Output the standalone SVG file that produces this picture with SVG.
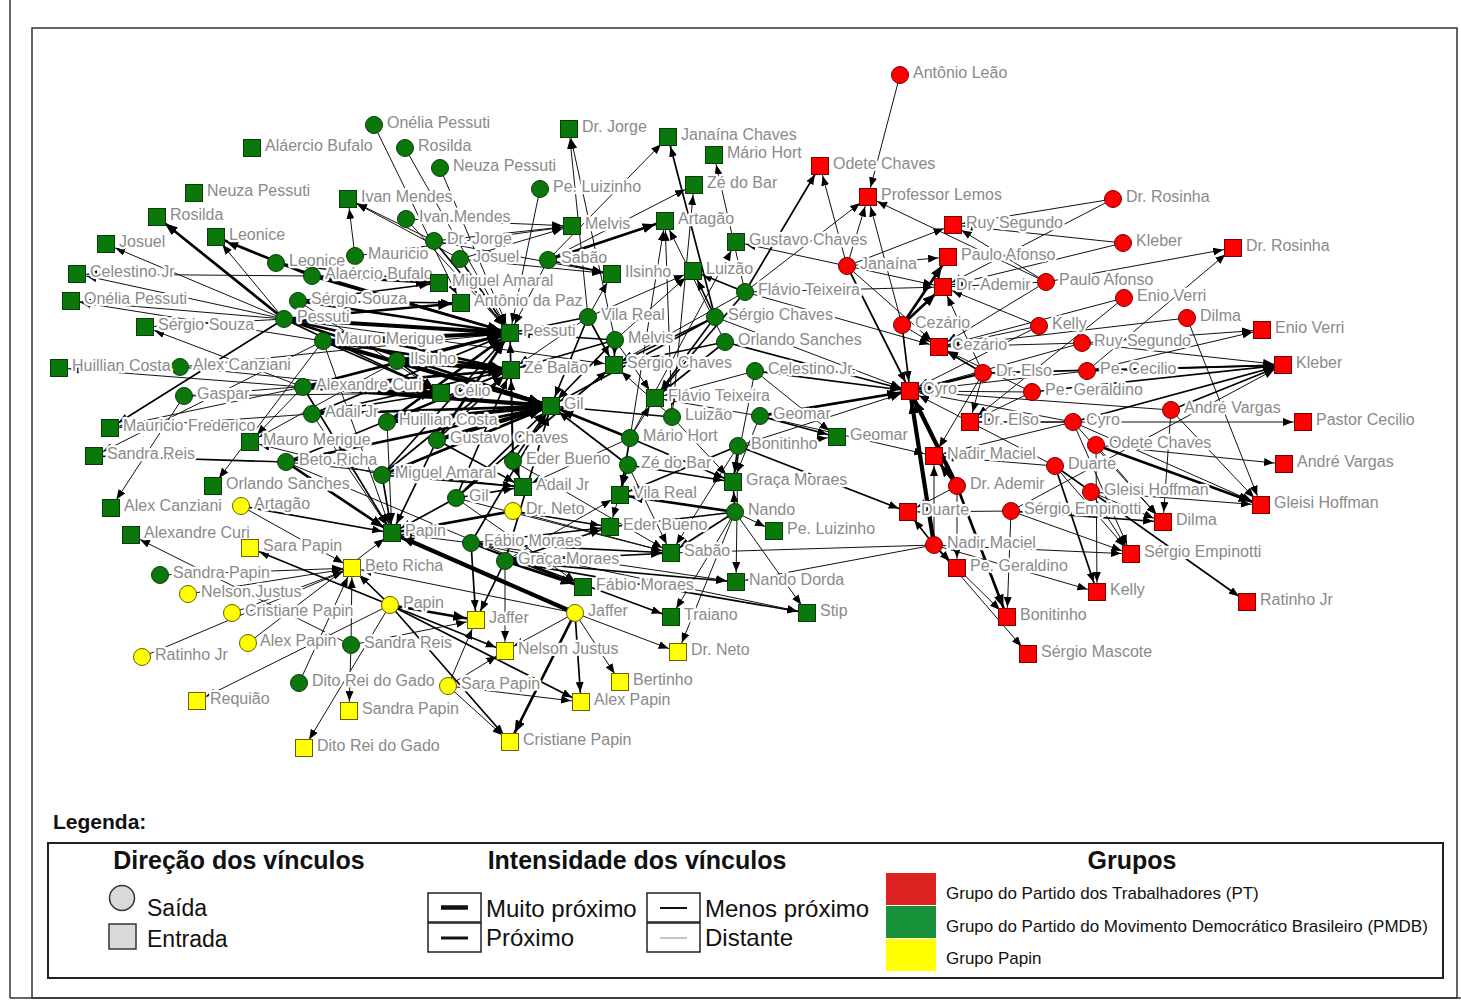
<svg xmlns="http://www.w3.org/2000/svg" width="1461" height="1001" viewBox="0 0 1461 1001">
<defs>
<marker id="a1" markerUnits="userSpaceOnUse" markerWidth="10" markerHeight="8" viewBox="0 0 10 8" refX="20" refY="4" orient="auto"><path d="M0,0 L10,4 L0,8z" fill="#000"/></marker>
<marker id="a2" markerUnits="userSpaceOnUse" markerWidth="13" markerHeight="10" viewBox="0 0 13 10" refX="23" refY="5" orient="auto"><path d="M0,0 L13,5 L0,10z" fill="#000"/></marker>
</defs>
<style>
.w1{stroke:#111;stroke-width:1;marker-end:url(#a1)}
.w2{stroke:#000;stroke-width:1.7;marker-end:url(#a1)}
.w3{stroke:#000;stroke-width:2.7;marker-end:url(#a2)}
.w4{stroke:#000;stroke-width:4.2;marker-end:url(#a2)}
.gc{fill:#0a780a;stroke:#0b3a0b;stroke-width:1}
.rc{fill:#ff0000;stroke:#7a0000;stroke-width:1}
.yc{fill:#ffff00;stroke:#6b5e00;stroke-width:1}
.lb{font-family:"Liberation Sans",Arial,sans-serif;font-size:16px;fill:#8a8a8a;stroke:#fff;stroke-width:4.5px;stroke-linejoin:round;paint-order:stroke}
.lg{font-family:"Liberation Sans",Arial,sans-serif;fill:#111}
.lt{font-family:"Liberation Sans",Arial,sans-serif;font-weight:bold;font-size:25px;fill:#111;text-anchor:middle}
.bx{fill:#fff;stroke:#222;stroke-width:1.5}
</style>
<rect x="0" y="0" width="1461" height="1001" fill="#fff"/>
<g id="frame" fill="none" stroke="#333">
<line x1="10" y1="0" x2="10" y2="998" stroke-width="1.5"/>
<line x1="10" y1="998" x2="1461" y2="998" stroke-width="1.5"/>
<rect x="32" y="28" width="1425" height="970" stroke-width="1.5"/>
</g>
<g id="connectors">
<g class="w1">
<line x1="284" y1="319" x2="216" y2="237"/><line x1="284" y1="319" x2="106" y2="244"/><line x1="284" y1="319" x2="77" y2="274"/><line x1="312" y1="276" x2="77" y2="274"/><line x1="284" y1="319" x2="71" y2="301"/><line x1="323" y1="341" x2="71" y2="301"/><line x1="303" y1="387" x2="145" y2="327"/><line x1="284" y1="319" x2="145" y2="327"/><line x1="303" y1="387" x2="59" y2="368"/><line x1="303" y1="387" x2="110" y2="428"/><line x1="312" y1="414" x2="110" y2="428"/><line x1="184" y1="396" x2="111" y2="508"/><line x1="323" y1="341" x2="213" y2="486"/><line x1="323" y1="341" x2="94" y2="456"/><line x1="382" y1="475" x2="250" y2="442"/><line x1="303" y1="387" x2="250" y2="442"/><line x1="397" y1="361" x2="250" y2="442"/><line x1="351" y1="645" x2="131" y2="535"/><line x1="180" y1="367" x2="510" y2="333"/><line x1="180" y1="367" x2="441" y2="393"/><line x1="184" y1="396" x2="441" y2="393"/><line x1="184" y1="396" x2="511" y2="370"/><line x1="374" y1="125" x2="461" y2="303"/><line x1="405" y1="148" x2="510" y2="333"/><line x1="440" y1="168" x2="510" y2="333"/><line x1="540" y1="189" x2="510" y2="333"/><line x1="588" y1="317" x2="569" y2="129"/><line x1="615" y1="340" x2="569" y2="129"/><line x1="548" y1="260" x2="668" y2="137"/><line x1="745" y1="292" x2="714" y2="155"/><line x1="548" y1="260" x2="694" y2="185"/><line x1="672" y1="417" x2="694" y2="185"/><line x1="406" y1="219" x2="572" y2="226"/><line x1="434" y1="241" x2="572" y2="226"/><line x1="460" y1="259" x2="572" y2="226"/><line x1="355" y1="256" x2="572" y2="226"/><line x1="672" y1="417" x2="665" y2="221"/><line x1="630" y1="438" x2="665" y2="221"/><line x1="725" y1="342" x2="665" y2="221"/><line x1="630" y1="438" x2="736" y2="242"/><line x1="847" y1="266" x2="736" y2="242"/><line x1="355" y1="256" x2="348" y2="199"/><line x1="434" y1="241" x2="348" y2="199"/><line x1="460" y1="259" x2="348" y2="199"/><line x1="460" y1="259" x2="612" y2="274"/><line x1="434" y1="241" x2="612" y2="274"/><line x1="588" y1="317" x2="612" y2="274"/><line x1="615" y1="340" x2="693" y2="271"/><line x1="588" y1="317" x2="693" y2="271"/><line x1="406" y1="219" x2="510" y2="333"/><line x1="548" y1="260" x2="510" y2="333"/><line x1="588" y1="317" x2="511" y2="370"/><line x1="298" y1="301" x2="441" y2="393"/><line x1="672" y1="417" x2="614" y2="365"/><line x1="284" y1="319" x2="614" y2="365"/><line x1="745" y1="292" x2="614" y2="365"/><line x1="755" y1="371" x2="655" y2="398"/><line x1="760" y1="416" x2="655" y2="398"/><line x1="615" y1="340" x2="655" y2="398"/><line x1="630" y1="438" x2="655" y2="398"/><line x1="630" y1="438" x2="523" y2="487"/><line x1="286" y1="462" x2="523" y2="487"/><line x1="505" y1="561" x2="620" y2="495"/><line x1="628" y1="465" x2="610" y2="527"/><line x1="672" y1="417" x2="733" y2="482"/><line x1="755" y1="371" x2="733" y2="482"/><line x1="760" y1="416" x2="733" y2="482"/><line x1="738" y1="446" x2="837" y2="437"/><line x1="755" y1="371" x2="837" y2="437"/><line x1="735" y1="512" x2="774" y2="531"/><line x1="312" y1="414" x2="392" y2="533"/><line x1="323" y1="341" x2="392" y2="533"/><line x1="387" y1="422" x2="392" y2="533"/><line x1="471" y1="543" x2="392" y2="533"/><line x1="513" y1="511" x2="671" y2="553"/><line x1="738" y1="446" x2="671" y2="553"/><line x1="628" y1="465" x2="671" y2="553"/><line x1="513" y1="461" x2="671" y2="553"/><line x1="456" y1="498" x2="671" y2="553"/><line x1="456" y1="498" x2="583" y2="587"/><line x1="286" y1="462" x2="583" y2="587"/><line x1="471" y1="543" x2="736" y2="582"/><line x1="738" y1="446" x2="736" y2="582"/><line x1="735" y1="512" x2="671" y2="617"/><line x1="735" y1="512" x2="807" y2="613"/><line x1="471" y1="543" x2="807" y2="613"/>
<line x1="160" y1="575" x2="352" y2="568"/><line x1="188" y1="594" x2="352" y2="568"/><line x1="232" y1="613" x2="352" y2="568"/><line x1="241" y1="506" x2="352" y2="568"/><line x1="351" y1="645" x2="352" y2="568"/><line x1="575" y1="613" x2="352" y2="568"/><line x1="142" y1="657" x2="352" y2="568"/><line x1="299" y1="683" x2="352" y2="568"/><line x1="248" y1="643" x2="392" y2="533"/><line x1="448" y1="686" x2="476" y2="620"/><line x1="351" y1="645" x2="476" y2="620"/><line x1="575" y1="613" x2="505" y2="651"/><line x1="505" y1="561" x2="505" y2="651"/><line x1="448" y1="686" x2="505" y2="651"/><line x1="575" y1="613" x2="678" y2="652"/><line x1="735" y1="512" x2="678" y2="652"/><line x1="575" y1="613" x2="620" y2="682"/><line x1="448" y1="686" x2="581" y2="702"/><line x1="351" y1="645" x2="349" y2="711"/><line x1="390" y1="605" x2="304" y2="748"/><line x1="390" y1="605" x2="197" y2="701"/><line x1="448" y1="686" x2="510" y2="742"/>
<line x1="715" y1="317" x2="910" y2="391"/><line x1="745" y1="292" x2="939" y2="347"/><line x1="745" y1="292" x2="868" y2="197"/><line x1="745" y1="292" x2="943" y2="287"/><line x1="738" y1="446" x2="910" y2="391"/><line x1="934" y1="545" x2="671" y2="553"/><line x1="934" y1="545" x2="736" y2="582"/><line x1="760" y1="416" x2="934" y2="456"/>
<line x1="900" y1="75" x2="868" y2="197"/><line x1="902" y1="325" x2="868" y2="197"/><line x1="1046" y1="282" x2="868" y2="197"/><line x1="1046" y1="282" x2="953" y2="225"/><line x1="847" y1="266" x2="820" y2="166"/><line x1="847" y1="266" x2="868" y2="197"/><line x1="847" y1="266" x2="953" y2="225"/><line x1="847" y1="266" x2="948" y2="257"/><line x1="847" y1="266" x2="943" y2="287"/><line x1="847" y1="266" x2="939" y2="347"/><line x1="902" y1="325" x2="939" y2="347"/><line x1="983" y1="373" x2="943" y2="287"/><line x1="983" y1="373" x2="970" y2="422"/><line x1="983" y1="373" x2="934" y2="456"/><line x1="1039" y1="326" x2="939" y2="347"/><line x1="1039" y1="326" x2="943" y2="287"/><line x1="1039" y1="326" x2="910" y2="391"/><line x1="1046" y1="282" x2="1233" y2="248"/><line x1="1046" y1="282" x2="939" y2="347"/><line x1="1046" y1="282" x2="943" y2="287"/><line x1="1113" y1="199" x2="953" y2="225"/><line x1="1113" y1="199" x2="943" y2="287"/><line x1="1123" y1="243" x2="953" y2="225"/><line x1="1123" y1="243" x2="943" y2="287"/><line x1="1124" y1="298" x2="939" y2="347"/><line x1="1124" y1="298" x2="970" y2="422"/><line x1="1187" y1="318" x2="1261" y2="505"/><line x1="1187" y1="318" x2="939" y2="347"/><line x1="1082" y1="343" x2="1262" y2="330"/><line x1="1082" y1="343" x2="1283" y2="365"/><line x1="1082" y1="343" x2="939" y2="347"/><line x1="1082" y1="343" x2="910" y2="391"/><line x1="1087" y1="371" x2="1262" y2="330"/><line x1="1087" y1="371" x2="1233" y2="248"/><line x1="1087" y1="371" x2="910" y2="391"/><line x1="1032" y1="392" x2="970" y2="422"/><line x1="1032" y1="392" x2="910" y2="391"/><line x1="1032" y1="392" x2="939" y2="347"/><line x1="1073" y1="422" x2="1303" y2="422"/><line x1="1073" y1="422" x2="1163" y2="522"/><line x1="1073" y1="422" x2="1261" y2="505"/><line x1="1073" y1="422" x2="1131" y2="554"/><line x1="1073" y1="422" x2="910" y2="391"/><line x1="1073" y1="422" x2="934" y2="456"/><line x1="1096" y1="445" x2="1284" y2="464"/><line x1="1096" y1="445" x2="1163" y2="522"/><line x1="1096" y1="445" x2="1097" y2="592"/><line x1="1171" y1="410" x2="1261" y2="505"/><line x1="1171" y1="410" x2="1163" y2="522"/><line x1="1171" y1="410" x2="910" y2="391"/><line x1="1055" y1="466" x2="910" y2="391"/><line x1="1055" y1="466" x2="934" y2="456"/><line x1="1055" y1="466" x2="1131" y2="554"/><line x1="1091" y1="492" x2="1261" y2="505"/><line x1="1091" y1="492" x2="1163" y2="522"/><line x1="1091" y1="492" x2="1131" y2="554"/><line x1="1011" y1="511" x2="1007" y2="617"/><line x1="1011" y1="511" x2="908" y2="512"/><line x1="1011" y1="511" x2="1131" y2="554"/><line x1="1011" y1="511" x2="1283" y2="365"/><line x1="934" y1="545" x2="1028" y2="654"/><line x1="934" y1="545" x2="1007" y2="617"/><line x1="934" y1="545" x2="1097" y2="592"/><line x1="934" y1="545" x2="1131" y2="554"/><line x1="934" y1="545" x2="934" y2="456"/><line x1="957" y1="486" x2="908" y2="512"/><line x1="957" y1="486" x2="957" y2="568"/>
</g>
<g class="w2">
<line x1="276" y1="263" x2="439" y2="283"/><line x1="298" y1="301" x2="439" y2="283"/><line x1="298" y1="301" x2="461" y2="303"/><line x1="284" y1="319" x2="110" y2="428"/><line x1="286" y1="462" x2="94" y2="456"/><line x1="276" y1="263" x2="510" y2="333"/><line x1="312" y1="414" x2="510" y2="333"/><line x1="382" y1="475" x2="510" y2="333"/><line x1="434" y1="241" x2="510" y2="333"/><line x1="460" y1="259" x2="510" y2="333"/><line x1="588" y1="317" x2="510" y2="333"/><line x1="615" y1="340" x2="510" y2="333"/><line x1="513" y1="461" x2="510" y2="333"/><line x1="312" y1="414" x2="511" y2="370"/><line x1="387" y1="422" x2="511" y2="370"/><line x1="437" y1="440" x2="511" y2="370"/><line x1="286" y1="462" x2="511" y2="370"/><line x1="382" y1="475" x2="511" y2="370"/><line x1="615" y1="340" x2="511" y2="370"/><line x1="513" y1="461" x2="511" y2="370"/><line x1="456" y1="498" x2="511" y2="370"/><line x1="456" y1="498" x2="551" y2="406"/><line x1="513" y1="461" x2="551" y2="406"/><line x1="615" y1="340" x2="551" y2="406"/><line x1="672" y1="417" x2="551" y2="406"/><line x1="628" y1="465" x2="551" y2="406"/><line x1="715" y1="317" x2="551" y2="406"/><line x1="588" y1="317" x2="551" y2="406"/><line x1="471" y1="543" x2="551" y2="406"/><line x1="505" y1="561" x2="551" y2="406"/><line x1="284" y1="319" x2="441" y2="393"/><line x1="323" y1="341" x2="441" y2="393"/><line x1="312" y1="414" x2="441" y2="393"/><line x1="397" y1="361" x2="441" y2="393"/><line x1="588" y1="317" x2="614" y2="365"/><line x1="615" y1="340" x2="614" y2="365"/><line x1="715" y1="317" x2="614" y2="365"/><line x1="725" y1="342" x2="614" y2="365"/><line x1="456" y1="498" x2="614" y2="365"/><line x1="745" y1="292" x2="655" y2="398"/><line x1="715" y1="317" x2="655" y2="398"/><line x1="725" y1="342" x2="655" y2="398"/><line x1="513" y1="461" x2="523" y2="487"/><line x1="456" y1="498" x2="523" y2="487"/><line x1="437" y1="440" x2="523" y2="487"/><line x1="382" y1="475" x2="523" y2="487"/><line x1="628" y1="465" x2="620" y2="495"/><line x1="630" y1="438" x2="620" y2="495"/><line x1="738" y1="446" x2="620" y2="495"/><line x1="735" y1="512" x2="610" y2="527"/><line x1="505" y1="561" x2="610" y2="527"/><line x1="471" y1="543" x2="610" y2="527"/><line x1="513" y1="511" x2="610" y2="527"/><line x1="628" y1="465" x2="733" y2="482"/><line x1="630" y1="438" x2="733" y2="482"/><line x1="738" y1="446" x2="733" y2="482"/><line x1="735" y1="512" x2="733" y2="482"/><line x1="760" y1="416" x2="837" y2="437"/><line x1="382" y1="475" x2="392" y2="533"/><line x1="456" y1="498" x2="392" y2="533"/><line x1="303" y1="387" x2="392" y2="533"/><line x1="437" y1="440" x2="392" y2="533"/><line x1="241" y1="506" x2="392" y2="533"/><line x1="735" y1="512" x2="671" y2="553"/><line x1="505" y1="561" x2="671" y2="553"/><line x1="471" y1="543" x2="671" y2="553"/><line x1="471" y1="543" x2="583" y2="587"/><line x1="505" y1="561" x2="736" y2="582"/><line x1="471" y1="543" x2="671" y2="617"/><line x1="505" y1="561" x2="807" y2="613"/><line x1="715" y1="317" x2="668" y2="137"/><line x1="548" y1="260" x2="612" y2="274"/><line x1="715" y1="317" x2="693" y2="271"/><line x1="745" y1="292" x2="693" y2="271"/><line x1="745" y1="292" x2="820" y2="166"/>
<line x1="390" y1="605" x2="250" y2="548"/><line x1="390" y1="605" x2="352" y2="568"/><line x1="390" y1="605" x2="505" y2="651"/><line x1="390" y1="605" x2="510" y2="742"/><line x1="471" y1="543" x2="476" y2="620"/><line x1="505" y1="561" x2="476" y2="620"/><line x1="575" y1="613" x2="581" y2="702"/><line x1="390" y1="605" x2="581" y2="702"/>
<line x1="755" y1="371" x2="910" y2="391"/><line x1="725" y1="342" x2="910" y2="391"/><line x1="738" y1="446" x2="908" y2="512"/><line x1="902" y1="325" x2="910" y2="391"/><line x1="847" y1="266" x2="910" y2="391"/><line x1="983" y1="373" x2="939" y2="347"/><line x1="983" y1="373" x2="1283" y2="365"/><line x1="1087" y1="371" x2="1283" y2="365"/><line x1="1032" y1="392" x2="1283" y2="365"/><line x1="1073" y1="422" x2="1283" y2="365"/><line x1="1073" y1="422" x2="970" y2="422"/><line x1="1171" y1="410" x2="1283" y2="365"/><line x1="1055" y1="466" x2="1247" y2="602"/><line x1="1055" y1="466" x2="1097" y2="592"/><line x1="1011" y1="511" x2="1163" y2="522"/><line x1="934" y1="545" x2="957" y2="568"/><line x1="934" y1="545" x2="908" y2="512"/>
</g>
<g class="w3">
<line x1="284" y1="319" x2="157" y2="217"/><line x1="312" y1="276" x2="216" y2="237"/><line x1="312" y1="276" x2="439" y2="283"/><line x1="284" y1="319" x2="461" y2="303"/><line x1="284" y1="319" x2="511" y2="370"/><line x1="284" y1="319" x2="551" y2="406"/><line x1="298" y1="301" x2="510" y2="333"/><line x1="312" y1="276" x2="510" y2="333"/><line x1="397" y1="361" x2="510" y2="333"/><line x1="303" y1="387" x2="510" y2="333"/><line x1="387" y1="422" x2="510" y2="333"/><line x1="437" y1="440" x2="510" y2="333"/><line x1="323" y1="341" x2="511" y2="370"/><line x1="303" y1="387" x2="511" y2="370"/><line x1="303" y1="387" x2="441" y2="393"/><line x1="397" y1="361" x2="551" y2="406"/><line x1="312" y1="414" x2="551" y2="406"/><line x1="286" y1="462" x2="551" y2="406"/><line x1="382" y1="475" x2="551" y2="406"/><line x1="630" y1="438" x2="551" y2="406"/><line x1="286" y1="462" x2="392" y2="533"/><line x1="548" y1="260" x2="665" y2="221"/><line x1="513" y1="511" x2="392" y2="533"/><line x1="735" y1="512" x2="620" y2="495"/><line x1="505" y1="561" x2="583" y2="587"/><line x1="390" y1="605" x2="476" y2="620"/><line x1="575" y1="613" x2="510" y2="742"/><line x1="760" y1="416" x2="910" y2="391"/><line x1="983" y1="373" x2="910" y2="391"/><line x1="902" y1="325" x2="948" y2="257"/><line x1="902" y1="325" x2="943" y2="287"/><line x1="1096" y1="445" x2="1261" y2="505"/><line x1="957" y1="486" x2="1007" y2="617"/><line x1="957" y1="486" x2="934" y2="456"/>
</g>
<g class="w4">
<line x1="284" y1="319" x2="510" y2="333"/><line x1="323" y1="341" x2="510" y2="333"/><line x1="323" y1="341" x2="551" y2="406"/><line x1="303" y1="387" x2="551" y2="406"/><line x1="387" y1="422" x2="551" y2="406"/><line x1="437" y1="440" x2="551" y2="406"/><line x1="397" y1="361" x2="511" y2="370"/><line x1="934" y1="545" x2="910" y2="391"/><line x1="957" y1="486" x2="910" y2="391"/><line x1="575" y1="613" x2="392" y2="533"/>
</g>
</g>
<g id="nodes">
<g id="o-onelia"><circle class="gc" cx="374" cy="125" r="8.5"/><text class="lb" x="387" y="128">Onélia Pessuti</text></g>
<g id="o-rosilda"><circle class="gc" cx="405" cy="148" r="8.5"/><text class="lb" x="418" y="151">Rosilda</text></g>
<g id="o-neuza"><circle class="gc" cx="440" cy="168" r="8.5"/><text class="lb" x="453" y="171">Neuza Pessuti</text></g>
<g id="o-peluiz"><circle class="gc" cx="540" cy="189" r="8.5"/><text class="lb" x="553" y="192">Pe. Luizinho</text></g>
<g id="o-ivan"><circle class="gc" cx="406" cy="219" r="8.5"/><text class="lb" x="419" y="222">Ivan Mendes</text></g>
<g id="o-drjorge"><circle class="gc" cx="434" cy="241" r="8.5"/><text class="lb" x="447" y="244">Dr. Jorge</text></g>
<g id="o-mauricio"><circle class="gc" cx="355" cy="256" r="8.5"/><text class="lb" x="368" y="259">Mauricio</text></g>
<g id="o-josuel"><circle class="gc" cx="460" cy="259" r="8.5"/><text class="lb" x="473" y="262">Josuel</text></g>
<g id="o-sabao"><circle class="gc" cx="548" cy="260" r="8.5"/><text class="lb" x="561" y="263">Sabão</text></g>
<g id="o-leonice"><circle class="gc" cx="276" cy="263" r="8.5"/><text class="lb" x="289" y="266">Leonice</text></g>
<g id="o-alaercio"><circle class="gc" cx="312" cy="276" r="8.5"/><text class="lb" x="325" y="279">Alaércio Bufalo</text></g>
<g id="o-sergiosouza"><circle class="gc" cx="298" cy="301" r="8.5"/><text class="lb" x="311" y="304">Sérgio Souza</text></g>
<g id="o-pessuti"><circle class="gc" cx="284" cy="319" r="8.5"/><text class="lb" x="297" y="322">Pessuti</text></g>
<g id="o-mauro"><circle class="gc" cx="323" cy="341" r="8.5"/><text class="lb" x="336" y="344">Mauro Merigue</text></g>
<g id="o-alexcanz"><circle class="gc" cx="180" cy="367" r="8.5"/><text class="lb" x="193" y="370">Alex Canziani</text></g>
<g id="o-gaspar"><circle class="gc" cx="184" cy="396" r="8.5"/><text class="lb" x="197" y="399">Gaspar</text></g>
<g id="o-alexcuri"><circle class="gc" cx="303" cy="387" r="8.5"/><text class="lb" x="316" y="390">Alexandre Curi</text></g>
<g id="o-adail"><circle class="gc" cx="312" cy="414" r="8.5"/><text class="lb" x="325" y="417">Adail Jr</text></g>
<g id="o-ilsinho"><circle class="gc" cx="397" cy="361" r="8.5"/><text class="lb" x="410" y="364">Ilsinho</text></g>
<g id="o-huillian"><circle class="gc" cx="387" cy="422" r="8.5"/><text class="lb" x="399" y="425">Huillian Costa</text></g>
<g id="o-gustavo"><circle class="gc" cx="437" cy="440" r="8.5"/><text class="lb" x="450" y="443">Gustavo Chaves</text></g>
<g id="o-beto"><circle class="gc" cx="286" cy="462" r="8.5"/><text class="lb" x="299" y="465">Beto Richa</text></g>
<g id="o-miguel"><circle class="gc" cx="382" cy="475" r="8.5"/><text class="lb" x="395" y="478">Miguel Amaral</text></g>
<g id="o-gil"><circle class="gc" cx="456" cy="498" r="8.5"/><text class="lb" x="469" y="501">Gil</text></g>
<g id="o-eder"><circle class="gc" cx="513" cy="461" r="8.5"/><text class="lb" x="526" y="464">Eder Bueno</text></g>
<g id="o-vilareal"><circle class="gc" cx="588" cy="317" r="8.5"/><text class="lb" x="601" y="320">Vila Real</text></g>
<g id="o-melvis"><circle class="gc" cx="615" cy="340" r="8.5"/><text class="lb" x="628" y="343">Melvis</text></g>
<g id="o-sergiochaves"><circle class="gc" cx="715" cy="317" r="8.5"/><text class="lb" x="728" y="320">Sérgio Chaves</text></g>
<g id="o-orlando"><circle class="gc" cx="725" cy="342" r="8.5"/><text class="lb" x="738" y="345">Orlando Sanches</text></g>
<g id="o-celestino"><circle class="gc" cx="755" cy="371" r="8.5"/><text class="lb" x="768" y="374">Celestino Jr.</text></g>
<g id="o-luizao"><circle class="gc" cx="672" cy="417" r="8.5"/><text class="lb" x="685" y="420">Luizão</text></g>
<g id="o-mario"><circle class="gc" cx="630" cy="438" r="8.5"/><text class="lb" x="643" y="441">Mário Hort</text></g>
<g id="o-zedobar"><circle class="gc" cx="628" cy="465" r="8.5"/><text class="lb" x="641" y="468">Zé do Bar</text></g>
<g id="o-geomar"><circle class="gc" cx="760" cy="416" r="8.5"/><text class="lb" x="773" y="419">Geomar</text></g>
<g id="o-bonitinho"><circle class="gc" cx="738" cy="446" r="8.5"/><text class="lb" x="751" y="449">Bonitinho</text></g>
<g id="o-nando"><circle class="gc" cx="735" cy="512" r="8.5"/><text class="lb" x="748" y="515">Nando</text></g>
<g id="o-flavio"><circle class="gc" cx="745" cy="292" r="8.5"/><text class="lb" x="758" y="295">Flávio Teixeira</text></g>
<g id="o-fabio"><circle class="gc" cx="471" cy="543" r="8.5"/><text class="lb" x="484" y="546">Fábio Moraes</text></g>
<g id="o-graca"><circle class="gc" cx="505" cy="561" r="8.5"/><text class="lb" x="518" y="564">Graça Moraes</text></g>
<g id="o-sandrapapin"><circle class="gc" cx="160" cy="575" r="8.5"/><text class="lb" x="173" y="578">Sandra Papin</text></g>
<g id="o-sandrareis"><circle class="gc" cx="351" cy="645" r="8.5"/><text class="lb" x="364" y="648">Sandra Reis</text></g>
<g id="o-dito"><circle class="gc" cx="299" cy="683" r="8.5"/><text class="lb" x="312" y="686">Dito Rei do Gado</text></g>

<g id="i-alaercio"><rect class="gc" x="243.5" y="139.5" width="17" height="17"/><text class="lb" x="265" y="151">Aláercio Bufalo</text></g>
<g id="i-neuza"><rect class="gc" x="185.5" y="184.5" width="17" height="17"/><text class="lb" x="207" y="196">Neuza Pessuti</text></g>
<g id="i-rosilda"><rect class="gc" x="148.5" y="208.5" width="17" height="17"/><text class="lb" x="170" y="220">Rosilda</text></g>
<g id="i-leonice"><rect class="gc" x="207.5" y="228.5" width="17" height="17"/><text class="lb" x="229" y="240">Leonice</text></g>
<g id="i-josuel"><rect class="gc" x="97.5" y="235.5" width="17" height="17"/><text class="lb" x="119" y="247">Josuel</text></g>
<g id="i-celestino"><rect class="gc" x="68.5" y="265.5" width="17" height="17"/><text class="lb" x="90" y="277">Celestino Jr</text></g>
<g id="i-onelia"><rect class="gc" x="62.5" y="292.5" width="17" height="17"/><text class="lb" x="84" y="304">Onélia Pessuti</text></g>
<g id="i-sergiosouza"><rect class="gc" x="136.5" y="318.5" width="17" height="17"/><text class="lb" x="158" y="330">Sérgio Souza</text></g>
<g id="i-huillian"><rect class="gc" x="50.5" y="359.5" width="17" height="17"/><text class="lb" x="72" y="371">Huillian Costa</text></g>
<g id="i-mauricio"><rect class="gc" x="101.5" y="419.5" width="17" height="17"/><text class="lb" x="123" y="431">Mauricio Frederico</text></g>
<g id="i-sandrareis"><rect class="gc" x="85.5" y="447.5" width="17" height="17"/><text class="lb" x="107" y="459">Sandra Reis</text></g>
<g id="i-mauro"><rect class="gc" x="241.5" y="433.5" width="17" height="17"/><text class="lb" x="263" y="445">Mauro Merigue</text></g>
<g id="i-orlando"><rect class="gc" x="204.5" y="477.5" width="17" height="17"/><text class="lb" x="226" y="489">Orlando Sanches</text></g>
<g id="i-alexcanz"><rect class="gc" x="102.5" y="499.5" width="17" height="17"/><text class="lb" x="124" y="511">Alex Canziani</text></g>
<g id="i-alexcuri"><rect class="gc" x="122.5" y="526.5" width="17" height="17"/><text class="lb" x="144" y="538">Alexandre Curi</text></g>
<g id="i-ivan"><rect class="gc" x="339.5" y="190.5" width="17" height="17"/><text class="lb" x="361" y="202">Ivan Mendes</text></g>
<g id="i-drjorge"><rect class="gc" x="560.5" y="120.5" width="17" height="17"/><text class="lb" x="582" y="132">Dr. Jorge</text></g>
<g id="i-janaina"><rect class="gc" x="659.5" y="128.5" width="17" height="17"/><text class="lb" x="681" y="140">Janaína Chaves</text></g>
<g id="i-mario"><rect class="gc" x="705.5" y="146.5" width="17" height="17"/><text class="lb" x="727" y="158">Mário Hort</text></g>
<g id="i-zedobar"><rect class="gc" x="685.5" y="176.5" width="17" height="17"/><text class="lb" x="707" y="188">Zé do Bar</text></g>
<g id="i-melvis"><rect class="gc" x="563.5" y="217.5" width="17" height="17"/><text class="lb" x="585" y="229">Melvis</text></g>
<g id="i-artagao"><rect class="gc" x="656.5" y="212.5" width="17" height="17"/><text class="lb" x="678" y="224">Artagão</text></g>
<g id="i-gustavo"><rect class="gc" x="727.5" y="233.5" width="17" height="17"/><text class="lb" x="749" y="245">Gustavo Chaves</text></g>
<g id="i-miguel"><rect class="gc" x="430.5" y="274.5" width="17" height="17"/><text class="lb" x="452" y="286">Miguel Amaral</text></g>
<g id="i-antonio"><rect class="gc" x="452.5" y="294.5" width="17" height="17"/><text class="lb" x="474" y="306">Antônio da Paz</text></g>
<g id="i-ilsinho"><rect class="gc" x="603.5" y="265.5" width="17" height="17"/><text class="lb" x="625" y="277">Ilsinho</text></g>
<g id="i-luizao"><rect class="gc" x="684.5" y="262.5" width="17" height="17"/><text class="lb" x="706" y="274">Luizão</text></g>
<g id="i-pessuti"><rect class="gc" x="501.5" y="324.5" width="17" height="17"/><text class="lb" x="523" y="336">Pessuti</text></g>
<g id="i-zebalao"><rect class="gc" x="502.5" y="361.5" width="17" height="17"/><text class="lb" x="524" y="373">Zé Balão</text></g>
<g id="i-celio"><rect class="gc" x="432.5" y="384.5" width="17" height="17"/><text class="lb" x="454" y="396">Célio</text></g>
<g id="i-gil"><rect class="gc" x="542.5" y="397.5" width="17" height="17"/><text class="lb" x="564" y="409">Gil</text></g>
<g id="i-sergiochaves"><rect class="gc" x="605.5" y="356.5" width="17" height="17"/><text class="lb" x="627" y="368">Sérgio Chaves</text></g>
<g id="i-flavio"><rect class="gc" x="646.5" y="389.5" width="17" height="17"/><text class="lb" x="668" y="401">Flávio Teixeira</text></g>
<g id="i-adail"><rect class="gc" x="514.5" y="478.5" width="17" height="17"/><text class="lb" x="536" y="490">Adail Jr</text></g>
<g id="i-vilareal"><rect class="gc" x="611.5" y="486.5" width="17" height="17"/><text class="lb" x="633" y="498">Vila Real</text></g>
<g id="i-eder"><rect class="gc" x="601.5" y="518.5" width="17" height="17"/><text class="lb" x="623" y="530">Eder Bueno</text></g>
<g id="i-geomar"><rect class="gc" x="828.5" y="428.5" width="17" height="17"/><text class="lb" x="850" y="440">Geomar</text></g>
<g id="i-graca"><rect class="gc" x="724.5" y="473.5" width="17" height="17"/><text class="lb" x="746" y="485">Graça Moraes</text></g>
<g id="i-peluiz"><rect class="gc" x="765.5" y="522.5" width="17" height="17"/><text class="lb" x="787" y="534">Pe. Luizinho</text></g>
<g id="i-papin"><rect class="gc" x="383.5" y="524.5" width="17" height="17"/><text class="lb" x="405" y="536">Papin</text></g>
<g id="i-sabao"><rect class="gc" x="662.5" y="544.5" width="17" height="17"/><text class="lb" x="684" y="556">Sabão</text></g>
<g id="i-fabio"><rect class="gc" x="574.5" y="578.5" width="17" height="17"/><text class="lb" x="596" y="590">Fábio Moraes</text></g>
<g id="i-nando"><rect class="gc" x="727.5" y="573.5" width="17" height="17"/><text class="lb" x="749" y="585">Nando Dorda</text></g>
<g id="i-traiano"><rect class="gc" x="662.5" y="608.5" width="17" height="17"/><text class="lb" x="684" y="620">Traiano</text></g>
<g id="i-stip"><rect class="gc" x="798.5" y="604.5" width="17" height="17"/><text class="lb" x="820" y="616">Stip</text></g>

<g id="o-artagao"><circle class="yc" cx="241" cy="506" r="8.5"/><text class="lb" x="254" y="509">Artagão</text></g>
<g id="o-drneto"><circle class="yc" cx="513" cy="511" r="8.5"/><text class="lb" x="526" y="514">Dr. Neto</text></g>
<g id="o-nelson"><circle class="yc" cx="188" cy="594" r="8.5"/><text class="lb" x="201" y="597">Nelson Justus</text></g>
<g id="o-cristiane"><circle class="yc" cx="232" cy="613" r="8.5"/><text class="lb" x="245" y="616">Cristiane Papin</text></g>
<g id="o-alexpapin"><circle class="yc" cx="248" cy="643" r="8.5"/><text class="lb" x="260" y="646">Alex Papin</text></g>
<g id="o-ratinho"><circle class="yc" cx="142" cy="657" r="8.5"/><text class="lb" x="155" y="660">Ratinho Jr</text></g>
<g id="o-papin"><circle class="yc" cx="390" cy="605" r="8.5"/><text class="lb" x="403" y="608">Papin</text></g>
<g id="o-jaffer"><circle class="yc" cx="575" cy="613" r="8.5"/><text class="lb" x="588" y="616">Jaffer</text></g>
<g id="o-sarapapin"><circle class="yc" cx="448" cy="686" r="8.5"/><text class="lb" x="461" y="689">Sara Papin</text></g>

<g id="i-sarapapin"><rect class="yc" x="241.5" y="539.5" width="17" height="17"/><text class="lb" x="263" y="551">Sara Papin</text></g>
<g id="i-beto"><rect class="yc" x="343.5" y="559.5" width="17" height="17"/><text class="lb" x="365" y="571">Beto Richa</text></g>
<g id="i-requiao"><rect class="yc" x="188.5" y="692.5" width="17" height="17"/><text class="lb" x="210" y="704">Requião</text></g>
<g id="i-sandrapapin"><rect class="yc" x="340.5" y="702.5" width="17" height="17"/><text class="lb" x="362" y="714">Sandra Papin</text></g>
<g id="i-dito"><rect class="yc" x="295.5" y="739.5" width="17" height="17"/><text class="lb" x="317" y="751">Dito Rei do Gado</text></g>
<g id="i-jaffer"><rect class="yc" x="467.5" y="611.5" width="17" height="17"/><text class="lb" x="489" y="623">Jaffer</text></g>
<g id="i-nelson"><rect class="yc" x="496.5" y="642.5" width="17" height="17"/><text class="lb" x="518" y="654">Nelson Justus</text></g>
<g id="i-drneto"><rect class="yc" x="669.5" y="643.5" width="17" height="17"/><text class="lb" x="691" y="655">Dr. Neto</text></g>
<g id="i-bertinho"><rect class="yc" x="611.5" y="673.5" width="17" height="17"/><text class="lb" x="633" y="685">Bertinho</text></g>
<g id="i-alexpapin"><rect class="yc" x="572.5" y="693.5" width="17" height="17"/><text class="lb" x="594" y="705">Alex Papin</text></g>
<g id="i-cristiane"><rect class="yc" x="501.5" y="733.5" width="17" height="17"/><text class="lb" x="523" y="745">Cristiane Papin</text></g>

<g id="o-antonio"><circle class="rc" cx="900" cy="75" r="8.5"/><text class="lb" x="913" y="78">Antônio Leão</text></g>
<g id="o-janaina"><circle class="rc" cx="847" cy="266" r="8.5"/><text class="lb" x="860" y="269">Janaína</text></g>
<g id="o-drrosinha"><circle class="rc" cx="1113" cy="199" r="8.5"/><text class="lb" x="1126" y="202">Dr. Rosinha</text></g>
<g id="o-kleber"><circle class="rc" cx="1123" cy="243" r="8.5"/><text class="lb" x="1136" y="246">Kleber</text></g>
<g id="o-paulo"><circle class="rc" cx="1046" cy="282" r="8.5"/><text class="lb" x="1059" y="285">Paulo Afonso</text></g>
<g id="o-enio"><circle class="rc" cx="1124" cy="298" r="8.5"/><text class="lb" x="1137" y="301">Enio Verri</text></g>
<g id="o-dilma"><circle class="rc" cx="1187" cy="318" r="8.5"/><text class="lb" x="1200" y="321">Dilma</text></g>
<g id="o-ruy"><circle class="rc" cx="1082" cy="343" r="8.5"/><text class="lb" x="1094" y="346">Ruy Segundo</text></g>
<g id="o-pececilio"><circle class="rc" cx="1087" cy="371" r="8.5"/><text class="lb" x="1100" y="374">Pe. Cecilio</text></g>
<g id="o-kelly"><circle class="rc" cx="1039" cy="326" r="8.5"/><text class="lb" x="1052" y="329">Kelly</text></g>
<g id="o-cezario"><circle class="rc" cx="902" cy="325" r="8.5"/><text class="lb" x="915" y="328">Cezário</text></g>
<g id="o-drelso"><circle class="rc" cx="983" cy="373" r="8.5"/><text class="lb" x="996" y="376">Dr. Elso</text></g>
<g id="o-pegeraldino"><circle class="rc" cx="1032" cy="392" r="8.5"/><text class="lb" x="1045" y="395">Pe. Geraldino</text></g>
<g id="o-cyro"><circle class="rc" cx="1073" cy="422" r="8.5"/><text class="lb" x="1086" y="425">Cyro</text></g>
<g id="o-odete"><circle class="rc" cx="1096" cy="445" r="8.5"/><text class="lb" x="1109" y="448">Odete Chaves</text></g>
<g id="o-duarte"><circle class="rc" cx="1055" cy="466" r="8.5"/><text class="lb" x="1068" y="469">Duarte</text></g>
<g id="o-andre"><circle class="rc" cx="1171" cy="410" r="8.5"/><text class="lb" x="1184" y="413">André Vargas</text></g>
<g id="o-gleisi"><circle class="rc" cx="1091" cy="492" r="8.5"/><text class="lb" x="1104" y="495">Gleisi Hoffman</text></g>
<g id="o-drademir"><circle class="rc" cx="957" cy="486" r="8.5"/><text class="lb" x="970" y="489">Dr. Ademir</text></g>
<g id="o-sergioemp"><circle class="rc" cx="1011" cy="511" r="8.5"/><text class="lb" x="1024" y="514">Sérgio Empinotti</text></g>
<g id="o-nadir"><circle class="rc" cx="934" cy="545" r="8.5"/><text class="lb" x="947" y="548">Nadir Maciel</text></g>

<g id="i-odete"><rect class="rc" x="811.5" y="157.5" width="17" height="17"/><text class="lb" x="833" y="169">Odete Chaves</text></g>
<g id="i-lemos"><rect class="rc" x="859.5" y="188.5" width="17" height="17"/><text class="lb" x="881" y="200">Professor Lemos</text></g>
<g id="i-ruy"><rect class="rc" x="944.5" y="216.5" width="17" height="17"/><text class="lb" x="966" y="228">Ruy Segundo</text></g>
<g id="i-paulo"><rect class="rc" x="939.5" y="248.5" width="17" height="17"/><text class="lb" x="961" y="260">Paulo Afonso</text></g>
<g id="i-drademir"><rect class="rc" x="934.5" y="278.5" width="17" height="17"/><text class="lb" x="956" y="290">Dr. Ademir</text></g>
<g id="i-drrosinha"><rect class="rc" x="1224.5" y="239.5" width="17" height="17"/><text class="lb" x="1246" y="251">Dr. Rosinha</text></g>
<g id="i-enio"><rect class="rc" x="1253.5" y="321.5" width="17" height="17"/><text class="lb" x="1275" y="333">Enio Verri</text></g>
<g id="i-kleber"><rect class="rc" x="1274.5" y="356.5" width="17" height="17"/><text class="lb" x="1296" y="368">Kleber</text></g>
<g id="i-cezario"><rect class="rc" x="930.5" y="338.5" width="17" height="17"/><text class="lb" x="952" y="350">Cezário</text></g>
<g id="i-cyro"><rect class="rc" x="901.5" y="382.5" width="17" height="17"/><text class="lb" x="923" y="394">Cyro</text></g>
<g id="i-drelso"><rect class="rc" x="961.5" y="413.5" width="17" height="17"/><text class="lb" x="983" y="425">Dr. Elso</text></g>
<g id="i-nadir"><rect class="rc" x="925.5" y="447.5" width="17" height="17"/><text class="lb" x="947" y="459">Nadir Maciel</text></g>
<g id="i-duarte"><rect class="rc" x="899.5" y="503.5" width="17" height="17"/><text class="lb" x="921" y="515">Duarte</text></g>
<g id="i-pastor"><rect class="rc" x="1294.5" y="413.5" width="17" height="17"/><text class="lb" x="1316" y="425">Pastor Cecilio</text></g>
<g id="i-andre"><rect class="rc" x="1275.5" y="455.5" width="17" height="17"/><text class="lb" x="1297" y="467">André Vargas</text></g>
<g id="i-gleisi"><rect class="rc" x="1252.5" y="496.5" width="17" height="17"/><text class="lb" x="1274" y="508">Gleisi Hoffman</text></g>
<g id="i-dilma"><rect class="rc" x="1154.5" y="513.5" width="17" height="17"/><text class="lb" x="1176" y="525">Dilma</text></g>
<g id="i-sergioemp"><rect class="rc" x="1122.5" y="545.5" width="17" height="17"/><text class="lb" x="1144" y="557">Sérgio Empinotti</text></g>
<g id="i-kelly"><rect class="rc" x="1088.5" y="583.5" width="17" height="17"/><text class="lb" x="1110" y="595">Kelly</text></g>
<g id="i-ratinho"><rect class="rc" x="1238.5" y="593.5" width="17" height="17"/><text class="lb" x="1260" y="605">Ratinho Jr</text></g>
<g id="i-pegeraldino"><rect class="rc" x="948.5" y="559.5" width="17" height="17"/><text class="lb" x="970" y="571">Pe. Geraldino</text></g>
<g id="i-bonitinho"><rect class="rc" x="998.5" y="608.5" width="17" height="17"/><text class="lb" x="1020" y="620">Bonitinho</text></g>
<g id="i-mascote"><rect class="rc" x="1019.5" y="645.5" width="17" height="17"/><text class="lb" x="1041" y="657">Sérgio Mascote</text></g>
</g>
<g id="legend">
<text class="lg" x="53" y="829" font-size="21" font-weight="bold">Legenda:</text>
<rect x="48" y="843" width="1395" height="135" fill="none" stroke="#222" stroke-width="2"/>
<text class="lt" x="239" y="869">Direção dos vínculos</text>
<circle cx="122" cy="898" r="12.5" fill="#d9d9d9" stroke="#333" stroke-width="1.5"/>
<text class="lg" x="147" y="916" font-size="23">Saída</text>
<rect x="109" y="924" width="27" height="25" fill="#d9d9d9" stroke="#333" stroke-width="1.5"/>
<text class="lg" x="147" y="947" font-size="23">Entrada</text>
<text class="lt" x="637" y="869">Intensidade dos vínculos</text>
<rect class="bx" x="428" y="893" width="53" height="29"/>
<line x1="441" y1="907.5" x2="468" y2="907.5" stroke="#111" stroke-width="4.5"/>
<rect class="bx" x="428" y="923" width="53" height="29"/>
<line x1="441" y1="938" x2="468" y2="938" stroke="#111" stroke-width="3"/>
<text class="lg" x="486" y="917" font-size="24">Muito próximo</text>
<text class="lg" x="486" y="946" font-size="24">Próximo</text>
<rect class="bx" x="647" y="893" width="53" height="29"/>
<line x1="660" y1="908" x2="687" y2="908" stroke="#111" stroke-width="2"/>
<rect class="bx" x="647" y="923" width="53" height="29"/>
<line x1="660" y1="938" x2="687" y2="938" stroke="#888" stroke-width="1"/>
<text class="lg" x="705" y="917" font-size="24">Menos próximo</text>
<text class="lg" x="705" y="946" font-size="24">Distante</text>
<text class="lt" x="1132" y="869">Grupos</text>
<rect x="886" y="873" width="50" height="32" fill="#dd2222"/>
<rect x="886" y="906" width="50" height="32" fill="#17923a"/>
<rect x="886" y="939" width="50" height="32" fill="#ffff00"/>
<text class="lg" x="946" y="899" font-size="17">Grupo do Partido dos Trabalhadores (PT)</text>
<text class="lg" x="946" y="932" font-size="17">Grupo do Partido do Movimento Democrático Brasileiro (PMDB)</text>
<text class="lg" x="946" y="964" font-size="17">Grupo Papin</text>
</g>
</svg>
